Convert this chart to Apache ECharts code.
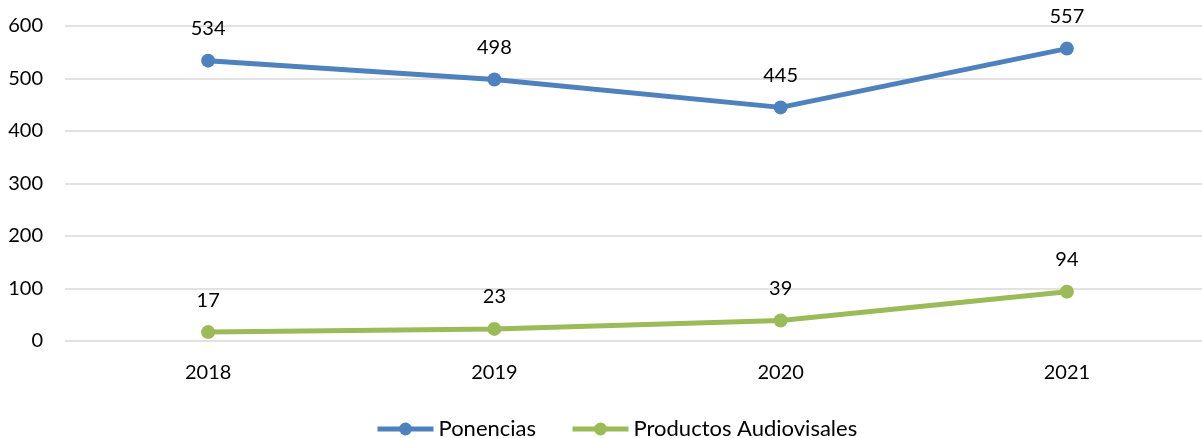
<!DOCTYPE html>
<html>
<head>
<meta charset="utf-8">
<script src="https://cdn.jsdelivr.net/npm/echarts@6/dist/echarts.min.js"></script>
<style>
  html, body { margin: 0; padding: 0; background: #fff; }
  #chart { width: 1202px; height: 438px; }
</style>
</head>
<body>
<div id="chart"></div>
<script>
// datos
var years = ['2018', '2019', '2020', '2021'];
var ponencias = [534, 498, 445, 557];
var audiovisuales = [17, 23, 39, 94];

var fontFam = 'Lato, "Open Sans", sans-serif';

let chart = echarts.init(document.getElementById('chart'));
chart.setOption({
    animation: false,
    textStyle: { fontFamily: fontFam },
    grid: { left: 65, top: 26, right: -8, bottom: 97, outerBoundsMode: 'none' },
    legend: {
        top: 413,
        left: 370,
        itemWidth: 56,
        itemHeight: 16,
        itemGap: 34,
        textStyle: { fontSize: 22, color: '#000', fontFamily: fontFam },
        lineStyle: { width: 5 },
        data: ['Ponencias', 'Productos Audiovisales']
    },
    xAxis: {
        type: 'category',
        data: years,
        boundaryGap: true,
        axisLine: { show: false },
        axisTick: { show: false },
        axisLabel: { fontSize: 20, color: '#000', margin: 22, fontFamily: fontFam }
    },
    yAxis: {
        type: 'value',
        min: 0,
        max: 600,
        interval: 100,
        axisLine: { show: false },
        axisTick: { show: false },
        axisLabel: { fontSize: 20, color: '#000', margin: 22, fontFamily: fontFam },
        splitLine: { lineStyle: { color: '#d9d9d9', width: 1.5 } }
    },
    series: [
        {
            name: 'Ponencias',
            type: 'line',
            data: ponencias,
            symbol: 'circle',
            symbolSize: 14,
            color: '#4f81bd',
            lineStyle: { width: 5 },
            label: { show: true, position: 'top', distance: 15, fontSize: 20, color: '#000', fontFamily: fontFam }
        },
        {
            name: 'Productos Audiovisales',
            type: 'line',
            data: audiovisuales,
            symbol: 'circle',
            symbolSize: 14,
            color: '#9bbb59',
            lineStyle: { width: 5 },
            label: { show: true, position: 'top', distance: 15, fontSize: 20, color: '#000', fontFamily: fontFam }
        }
    ]
});
</script>
</body>
</html>
